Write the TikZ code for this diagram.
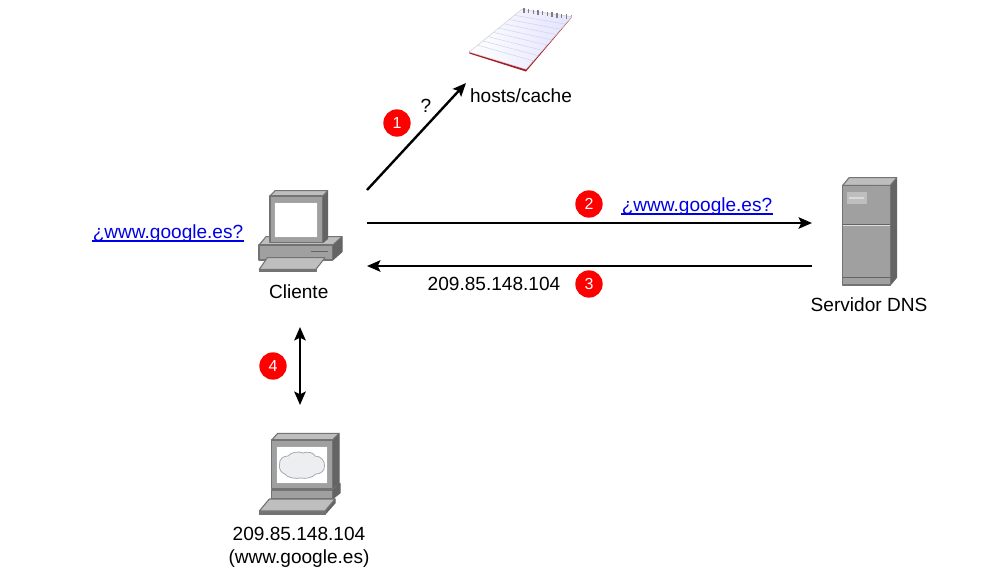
\documentclass[tikz,border=0pt]{standalone}
\usepackage{fontspec}
\setmainfont{Liberation Sans}
\usetikzlibrary{arrows.meta,calc}
\definecolor{gfront}{RGB}{160,160,160}
\definecolor{gtop}{RGB}{190,190,190}
\definecolor{gside}{RGB}{100,100,100}
\definecolor{gedge}{RGB}{115,115,115}
\definecolor{glite}{RGB}{190,190,190}
\definecolor{glow}{RGB}{218,218,218}
\definecolor{linkblue}{RGB}{0,0,230}
\definecolor{padred}{RGB}{170,25,35}
\definecolor{padline}{RGB}{205,212,232}
\definecolor{cloudfill}{RGB}{236,238,240}
\definecolor{cloudedge}{RGB}{160,170,180}
\tikzset{
  x=0.75pt,y=-0.75pt,
  txt/.style={font=\fontsize{14.3}{17.2}\selectfont,inner sep=0pt,text=black,align=center},
  lnk/.style={font=\fontsize{14.3}{17}\selectfont,inner sep=0pt,text=linkblue,anchor=base},
  under/.style={linkblue,line width=0.95pt},
  tipa/.style={},
  flow/.style={black,line width=1.8pt,-{Stealth[length=10pt,width=8.5pt,inset=2pt]}},
  flowb/.style={black,line width=1.8pt,{Stealth[length=10pt,width=8.5pt,inset=2pt]}-{Stealth[length=10pt,width=8.5pt,inset=2pt]}},
  badge/.style={circle,fill=red,draw=none,minimum size=20.5pt,inner sep=0pt,text=white,font=\fontsize{12}{14}\selectfont},
  fr/.style={fill=gfront,draw=gedge,line width=0.8pt,line join=round},
  tp/.style={fill=gtop,draw=gedge,line width=0.8pt,line join=round},
  sd/.style={fill=gside,draw=gside,line width=0.8pt,line join=round}
}
\begin{document}
\begin{tikzpicture}
\useasboundingbox (0,0) rectangle (1000,576);
\fill[white] (0,0) rectangle (1000,576);

% notepad
\fill[padred] (469.3,53.5) -- (526,71.5) -- (571.7,17.5) -- (571.7,15) -- (526,69) -- (469.3,51) -- cycle;
\shade[left color=white,right color=blue!11!white,draw=gray!35,line width=0.4pt,line join=round] (521.7,9.3) -- (571.7,16.7) -- (526,69.2) -- (469.3,52) -- cycle;
\foreach \t in {0.14,0.24,...,0.9}
  \draw[padline,line width=0.35pt] ($(521.7,9.3)!\t!(469.3,52)$) -- ($(571.7,16.7)!\t!(526,69.2)$);
\foreach \t in {0.02,0.12,...,1.0}
  \draw[gray,line width=1pt] ($(523,8)!\t!(570,15)$) -- ++(0,4.5);
\coordinate (hosts) at (466,83);
\coordinate (cl1) at (367,190);
\coordinate (cl2) at (367,223);
\coordinate (dns2) at (812,223);
\coordinate (dns3) at (812,266);
\coordinate (cl3) at (367,266);
\coordinate (cl4) at (300,327);
\coordinate (web4) at (300,405);

% client
\draw[sd] (332.7,245) -- (342,236.7) -- (342,251.7) -- (332.7,260) -- cycle;
\draw[tp] (259,245) -- (266,236.7) -- (342,236.7) -- (332.7,245) -- cycle;
\draw[fr] (259,245) rectangle (332.7,260);
\draw[gside,line width=0.9pt] (310.5,251.5) -- (328,251.5);
\draw[sd] (322.7,196) -- (327.7,190.7) -- (327.7,238.5) -- (322.7,242.7) -- cycle;
\draw[tp] (270,196) -- (275,190.7) -- (327.7,190.7) -- (322.7,196) -- cycle;
\draw[fr] (270,196) rectangle (322.7,242.7);
\draw[fill=white,draw=gray!70,line width=0.7pt] (274.3,202.3) rectangle (317.7,237.7);
\draw[fill=gedge,draw=gedge,line width=0.6pt,line join=round] (259.3,269.3) -- (316,269.3) -- (316,271.7) -- (259.3,271.7) -- cycle;
\draw[tp] (267.3,257.7) -- (325,257.7) -- (316,269.3) -- (259.3,269.3) -- cycle;

% server
\draw[sd] (890.3,185.3) -- (896.7,177.7) -- (896.7,277.3) -- (890.3,285) -- cycle;
\draw[tp] (842.7,185.3) -- (849,177.7) -- (896.7,177.7) -- (890.3,185.3) -- cycle;
\draw[fr] (842.7,185.3) rectangle (890.3,285);
\draw[fill=glite,draw=gray!75,line width=0.5pt] (846,191) rectangle (867.3,204.3);
\fill[glow] (849,197) rectangle (864.3,199);
\draw[gside,line width=0.8pt] (842.7,224.3) -- (890.3,224.3);
\draw[gray!25,line width=0.6pt] (842.7,225.4) -- (890.3,225.4);
\draw[gside,line width=0.8pt] (842.7,277.3) -- (890.3,277.3);

% web server terminal
\draw[sd] (332.3,440) -- (339,433.3) -- (339,483.3) -- (332.3,488.3) -- cycle;
\draw[sd] (332.3,490) -- (340,483.3) -- (340,493) -- (332.3,499) -- cycle;
\draw[fr] (271.7,490) rectangle (332.3,499);
\draw[tp] (271.7,440) -- (277.7,433.3) -- (339,433.3) -- (332.3,440) -- cycle;
\draw[fr] (271.7,440) rectangle (332.3,488.3);
\draw[fill=white,draw=gray!70,line width=0.7pt] (276.3,446.7) rectangle (327.7,483.3);
\draw[fill=cloudfill,draw=cloudedge,line width=0.6pt]
  (279.5,465) .. controls (279,459) and (283,456) .. (288,456) .. controls (291,452) and (299,451) .. (303,453) .. controls (308,451) and (314,453) .. (315,456) .. controls (321,456) and (325,461) .. (324.5,466) .. controls (325,471) and (320,474) .. (316,474) .. controls (312,478) and (305,479) .. (301,478) .. controls (296,479) and (287,478) .. (285,474) .. controls (281,473) and (279,469) .. (279.5,465) -- cycle;
\draw[sd] (325,511) -- (335,499) -- (335,503) -- (325,514.3) -- cycle;
\draw[fill=gedge,draw=gedge,line width=0.6pt] (259.3,511) rectangle (325,514.3);
\draw[tp] (269.3,499) -- (335,499) -- (325,511) -- (259.3,511) -- cycle;

% connectors
\draw[flow] (cl1) -- (hosts);
\draw[flow] (cl2) -- (dns2);
\draw[flow] (dns3) -- (cl3);
\draw[flowb] (cl4) -- (web4);

% badges
\node[badge] (b1) at (397,123) {1};
\node[badge] (b2) at (589,204) {2};
\node[badge] (b3) at (589,284) {3};
\node[badge] (b4) at (273,366) {4};

% labels
\node[txt] (q) at (426,106) {?};
\node[txt] (lhosts) at (521,96) {hosts/cache};
\node[lnk] (l1) at (168,238) {¿www.google.es?};
\node[lnk] (l2) at (697,211) {¿www.google.es?};
\draw[under] (92,241) -- (244,241);
\draw[under] (621,214) -- (773,214);
\node[txt] (lcl) at (298.7,292) {Cliente};
\node[txt] (ldns) at (869,305) {Servidor DNS};
\node[txt] (lip) at (494,284) {209.85.148.104};
\node[txt] (lweb) at (299,547) {209.85.148.104\\(www.google.es)};
\end{tikzpicture}
\end{document}
